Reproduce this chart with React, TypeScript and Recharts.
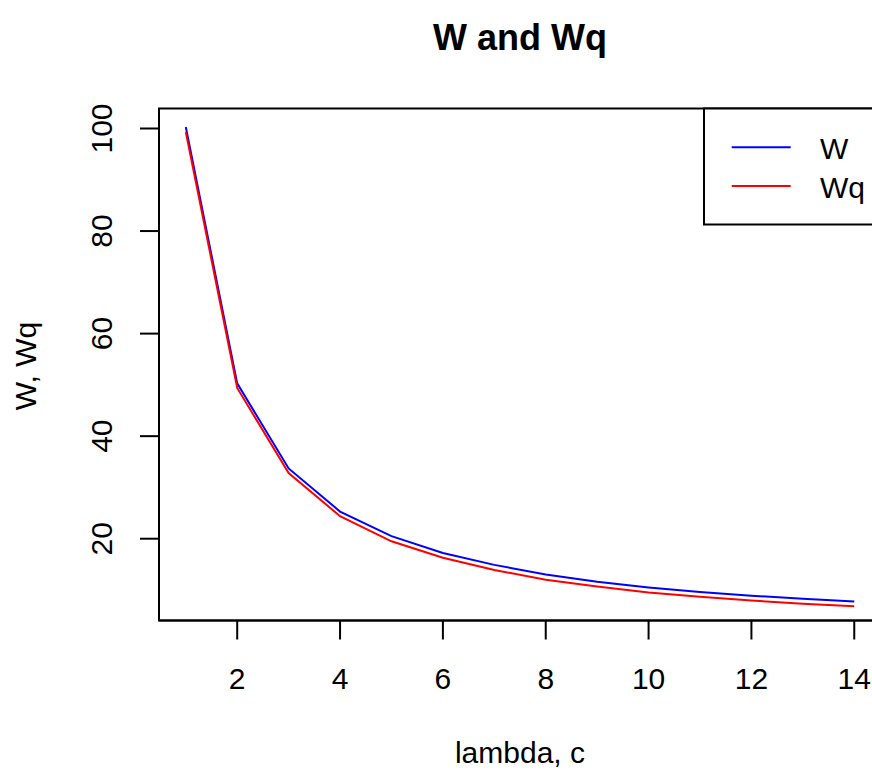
import { LineChart, Line, XAxis, YAxis, ReferenceArea } from 'recharts';

const lambdaC = [1, 2, 3, 4, 5, 6, 7, 8, 9, 10, 11, 12, 13, 14];
const wValues = [100.3, 50.3, 33.7, 25.3, 20.5, 17.2, 14.9, 13.0, 11.6, 10.5, 9.6, 8.9, 8.3, 7.75];
const wqValues = [99.3, 49.4, 32.8, 24.4, 19.5, 16.3, 13.9, 12.0, 10.7, 9.5, 8.7, 7.95, 7.3, 6.85];
const xTicks = [2, 4, 6, 8, 10, 12, 14];
const yTicks = [20, 40, 60, 80, 100];

const data = lambdaC.map((x, i) => ({ x, W: wValues[i], Wq: wqValues[i] }));

const FONT = '"Liberation Sans", Arial, Helvetica, sans-serif';
const X_DOMAIN: [number, number] = [0.479, 14.52];
const Y_DOMAIN: [number, number] = [4.05, 103.9];

const XTick = (props: any) => (
  <text x={props.x} y={689} textAnchor="middle" fontSize={30} fontFamily={FONT} fill="#000">
    {props.payload.value}
  </text>
);

const YTick = (props: any) => (
  <text
    x={101.5}
    y={props.y}
    dy="0.36em"
    textAnchor="middle"
    fontSize={30}
    fontFamily={FONT}
    fill="#000"
    transform={`rotate(-90, 101.5, ${props.y})`}
  >
    {props.payload.value}
  </text>
);

export default function App() {
  return (
    <div style={{ position: 'fixed', left: 0, top: 0, width: 872, height: 772, overflow: 'hidden', background: '#fff' }}>
      <LineChart width={900} height={772} data={data} margin={{ top: 108.5, right: 19, bottom: 0, left: 0 }}>
        <XAxis
          dataKey="x"
          type="number"
          domain={X_DOMAIN}
          ticks={xTicks}
          allowDataOverflow
          height={151.5}
          tickSize={19}
          tickLine={{ stroke: '#000', strokeWidth: 2 }}
          axisLine={{ stroke: '#000', strokeWidth: 2 }}
          tick={XTick}
        />
        <YAxis
          type="number"
          domain={Y_DOMAIN}
          ticks={yTicks}
          allowDataOverflow
          width={159}
          tickSize={19}
          tickLine={{ stroke: '#000', strokeWidth: 2 }}
          axisLine={{ stroke: '#000', strokeWidth: 2 }}
          tick={YTick}
        />
        <ReferenceArea
          x1={X_DOMAIN[0]}
          x2={X_DOMAIN[1]}
          y1={Y_DOMAIN[0]}
          y2={Y_DOMAIN[1]}
          fill="none"
          stroke="#000"
          strokeWidth={2}
          fillOpacity={0}
        />
        <Line type="linear" dataKey="W" stroke="#0000FF" strokeWidth={2} dot={false} isAnimationActive={false} />
        <Line type="linear" dataKey="Wq" stroke="#FF0000" strokeWidth={2} dot={false} isAnimationActive={false} />
      </LineChart>
      <svg width={872} height={772} style={{ position: 'absolute', left: 0, top: 0, pointerEvents: 'none' }}>
        <text x={520} y={50} textAnchor="middle" fontSize={36} fontWeight="bold" fontFamily={FONT} fill="#000">
          W and Wq
        </text>
        <text x={520} y={763} textAnchor="middle" fontSize={30} fontFamily={FONT} fill="#000">
          lambda, c
        </text>
        <text
          x={25}
          y={366}
          dy="0.36em"
          textAnchor="middle"
          fontSize={30}
          fontFamily={FONT}
          fill="#000"
          transform="rotate(-90, 25, 366)"
        >
          W, Wq
        </text>
        <rect x={704} y={108.5} width={200} height={116} fill="#fff" stroke="#000" strokeWidth={2} />
        <line x1={731.7} x2={790.7} y1={147.3} y2={147.3} stroke="#0000FF" strokeWidth={2} />
        <line x1={731.7} x2={790.7} y1={186} y2={186} stroke="#FF0000" strokeWidth={2} />
        <text x={820} y={159.3} fontSize={30} fontFamily={FONT} fill="#000">W</text>
        <text x={820} y={197.7} fontSize={30} fontFamily={FONT} fill="#000">Wq</text>
      </svg>
    </div>
  );
}
